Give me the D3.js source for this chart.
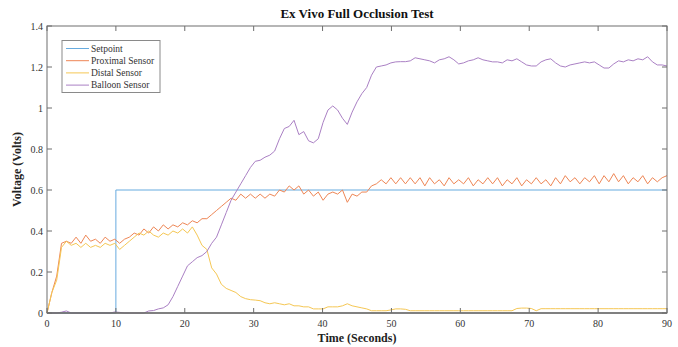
<!DOCTYPE html>
<html>
<head>
<meta charset="utf-8">
<script src="https://cdn.jsdelivr.net/npm/d3@7"></script>
<style>
  body { margin: 0; background: #fff; }
  text { font-family: 'Liberation Serif', 'DejaVu Serif', serif; }
</style>
</head>
<body>
<div id="chart"></div>
<script>
// Variables
const width = 678;
const height = 347;
const margin = {top: 26, right: 10, bottom: 34, left: 47};

// Colors
const blue = '#67abdf';
const orange = '#ee8655';
const yellow = '#f5c754';
const purple = '#aa80c4';
const axisGray = '#6e6e6e';

// Data (sampled every 90/128 s)
const sampleCount = 129;
const time = d3.range(sampleCount).map(i => i * 90 / (sampleCount - 1));

const setpointTime = [0, 10, 10, 90];
const setpointValue = [0, 0, 0.6, 0.6];

const proximal = [
  0, 0.10, 0.18, 0.34, 0.35, 0.34, 0.37, 0.34, 0.38, 0.35,
  0.36, 0.34, 0.37, 0.35, 0.36, 0.34, 0.36, 0.37, 0.39, 0.38,
  0.41, 0.39, 0.42, 0.40, 0.43, 0.41, 0.43, 0.42, 0.44, 0.43,
  0.45, 0.44, 0.46, 0.46, 0.48, 0.50, 0.52, 0.54, 0.56, 0.55,
  0.58, 0.56, 0.58, 0.56, 0.58, 0.56, 0.58, 0.57, 0.60, 0.59,
  0.62, 0.60, 0.62, 0.58, 0.60, 0.57, 0.59, 0.55, 0.58, 0.59,
  0.58, 0.60, 0.54, 0.58, 0.57, 0.59, 0.59, 0.62, 0.63, 0.65,
  0.63, 0.66, 0.63, 0.66, 0.63, 0.66, 0.63, 0.66, 0.62, 0.66,
  0.63, 0.65, 0.62, 0.66, 0.63, 0.65, 0.63, 0.66, 0.62, 0.65,
  0.63, 0.66, 0.63, 0.66, 0.62, 0.65, 0.63, 0.66, 0.62, 0.65,
  0.63, 0.66, 0.63, 0.65, 0.62, 0.66, 0.63, 0.67, 0.64, 0.66,
  0.63, 0.66, 0.64, 0.67, 0.63, 0.67, 0.64, 0.68, 0.64, 0.67,
  0.63, 0.66, 0.64, 0.67, 0.63, 0.66, 0.64, 0.66, 0.67
];

const distal = [
  0, 0.10, 0.16, 0.32, 0.35, 0.33, 0.34, 0.32, 0.34, 0.32,
  0.33, 0.32, 0.34, 0.33, 0.34, 0.31, 0.33, 0.35, 0.37, 0.39,
  0.38, 0.40, 0.38, 0.37, 0.39, 0.38, 0.40, 0.39, 0.41, 0.39,
  0.42, 0.38, 0.33, 0.31, 0.22, 0.19, 0.14, 0.12, 0.11, 0.10,
  0.08, 0.07, 0.065, 0.063, 0.06, 0.05, 0.045, 0.05, 0.045, 0.04,
  0.045, 0.035, 0.035, 0.03, 0.03, 0.02, 0.02, 0.02, 0.03, 0.03,
  0.03, 0.035, 0.045, 0.035, 0.03, 0.025, 0.02, 0.011, 0.011, 0.011,
  0.011, 0.015, 0.02, 0.02, 0.018, 0.011, 0.011, 0.011, 0.011, 0.011,
  0.011, 0.011, 0.011, 0.011, 0.011, 0.011, 0.011, 0.011, 0.011, 0.011,
  0.011, 0.011, 0.011, 0.011, 0.011, 0.011, 0.011, 0.022, 0.024, 0.024,
  0.022, 0.011, 0.021, 0.021, 0.021, 0.021, 0.021, 0.021, 0.021, 0.021,
  0.021, 0.021, 0.021, 0.021, 0.021, 0.021, 0.021, 0.021, 0.021, 0.021,
  0.021, 0.021, 0.021, 0.021, 0.021, 0.021, 0.021, 0.021, 0.021
];

const balloon = [
  0, 0, 0, 0.004, 0.01, 0, 0, 0, 0, 0,
  0, 0, 0, 0, 0.005, 0.003, 0, 0, 0, 0,
  0, 0.01, 0.012, 0.02, 0.025, 0.04, 0.08, 0.13, 0.18, 0.23,
  0.25, 0.27, 0.28, 0.30, 0.34, 0.37, 0.43, 0.49, 0.55, 0.59,
  0.63, 0.67, 0.71, 0.74, 0.745, 0.76, 0.77, 0.79, 0.85, 0.90,
  0.91, 0.94, 0.87, 0.885, 0.84, 0.83, 0.85, 0.93, 0.99, 1.01,
  0.99, 0.95, 0.92, 0.98, 1.03, 1.07, 1.10, 1.16, 1.20, 1.205,
  1.21, 1.22, 1.225, 1.226, 1.226, 1.23, 1.245, 1.24, 1.235, 1.23,
  1.22, 1.235, 1.24, 1.25, 1.235, 1.215, 1.22, 1.23, 1.235, 1.245,
  1.235, 1.23, 1.225, 1.225, 1.22, 1.235, 1.23, 1.24, 1.225, 1.21,
  1.205, 1.205, 1.225, 1.235, 1.24, 1.22, 1.205, 1.20, 1.21, 1.215,
  1.22, 1.225, 1.22, 1.225, 1.21, 1.195, 1.195, 1.215, 1.23, 1.225,
  1.235, 1.23, 1.24, 1.235, 1.25, 1.225, 1.21, 1.21, 1.205
];

const xTicks = [0, 10, 20, 30, 40, 50, 60, 70, 80, 90];
const yTicks = [0, 0.2, 0.4, 0.6, 0.8, 1, 1.2, 1.4];
const seriesNames = ['Setpoint', 'Proximal Sensor', 'Distal Sensor', 'Balloon Sensor'];
const seriesColors = [blue, orange, yellow, purple];

// Scales
const x = d3.scaleLinear()
  .domain([0, 90])
  .range([margin.left, width - margin.right - 1]);
const y = d3.scaleLinear()
  .domain([0, 1.4])
  .range([height - margin.bottom, margin.top]);

const svg = d3.select('#chart').append('svg')
  .attr('width', width)
  .attr('height', height);

const x0 = x.range()[0], x1 = x.range()[1];
const y0 = y.range()[0], y1 = y.range()[1];

// Lines
const line = d3.line()
  .x(d => x(d[0]))
  .y(d => y(d[1]));

const seriesData = [
  setpointTime.map((t, i) => [t, setpointValue[i]]),
  time.map((t, i) => [t, proximal[i]]),
  time.map((t, i) => [t, distal[i]]),
  time.map((t, i) => [t, balloon[i]])
];

svg.append('g')
  .attr('class', 'lines')
  .attr('fill', 'none')
  .selectAll('path')
  .data(seriesData)
  .join('path')
  .attr('stroke', (d, i) => seriesColors[i])
  .attr('stroke-width', 1)
  .attr('d', line);

// Axes (box with inner ticks)
const tickLen = 5;
const axes = svg.append('g')
  .attr('class', 'axes')
  .attr('stroke', axisGray)
  .attr('stroke-width', 1);
axes.append('rect')
  .attr('x', x0)
  .attr('y', y1)
  .attr('width', x1 - x0)
  .attr('height', y0 - y1)
  .attr('fill', 'none');
axes.append('line')
  .attr('x1', x0).attr('x2', x1)
  .attr('y1', y0).attr('y2', y0)
  .attr('stroke-width', 1.6);

xTicks.forEach(t => {
  axes.append('line')
    .attr('x1', x(t)).attr('x2', x(t))
    .attr('y1', y0).attr('y2', y0 - tickLen);
  axes.append('line')
    .attr('x1', x(t)).attr('x2', x(t))
    .attr('y1', y1).attr('y2', y1 + tickLen);
});
yTicks.forEach(v => {
  axes.append('line')
    .attr('x1', x0).attr('x2', x0 + tickLen)
    .attr('y1', y(v)).attr('y2', y(v));
  axes.append('line')
    .attr('x1', x1).attr('x2', x1 - tickLen)
    .attr('y1', y(v)).attr('y2', y(v));
});

// Tick labels
svg.append('g')
  .selectAll('text')
  .data(xTicks)
  .join('text')
  .attr('x', d => x(d))
  .attr('y', y0 + 14)
  .attr('text-anchor', 'middle')
  .attr('font-size', 10)
  .attr('fill', '#333')
  .text(d => d);

svg.append('g')
  .selectAll('text')
  .data(yTicks)
  .join('text')
  .attr('x', x0 - 4)
  .attr('y', d => y(d) + 3.5)
  .attr('text-anchor', 'end')
  .attr('font-size', 10)
  .attr('fill', '#333')
  .text(d => d);

// Titles
svg.append('text')
  .attr('x', (x0 + x1) / 2)
  .attr('y', 18)
  .attr('text-anchor', 'middle')
  .attr('font-size', 13)
  .attr('font-weight', 'bold')
  .attr('fill', '#111')
  .text('Ex Vivo Full Occlusion Test');

svg.append('text')
  .attr('x', (x0 + x1) / 2)
  .attr('y', 342)
  .attr('text-anchor', 'middle')
  .attr('font-size', 12)
  .attr('font-weight', 'bold')
  .attr('fill', '#222')
  .text('Time (Seconds)');

svg.append('text')
  .attr('transform', `translate(21,${(y0 + y1) / 2}) rotate(-90)`)
  .attr('text-anchor', 'middle')
  .attr('font-size', 12)
  .attr('font-weight', 'bold')
  .attr('fill', '#222')
  .text('Voltage (Volts)');

// Legend
const legend = svg.append('g')
  .attr('class', 'legend');
legend.append('rect')
  .attr('x', 62)
  .attr('y', 40.5)
  .attr('width', 98)
  .attr('height', 52)
  .attr('fill', '#fff')
  .attr('stroke', '#8a8a8a');
seriesNames.forEach((name, i) => {
  const ly = 48.5 + i * 12.2;
  legend.append('line')
    .attr('x1', 66).attr('x2', 89)
    .attr('y1', ly).attr('y2', ly)
    .attr('stroke', seriesColors[i])
    .attr('stroke-width', 1);
  legend.append('text')
    .attr('x', 91)
    .attr('y', ly + 3.3)
    .attr('font-size', 9.5)
    .attr('fill', '#333')
    .text(name);
});
</script>
</body>
</html>
